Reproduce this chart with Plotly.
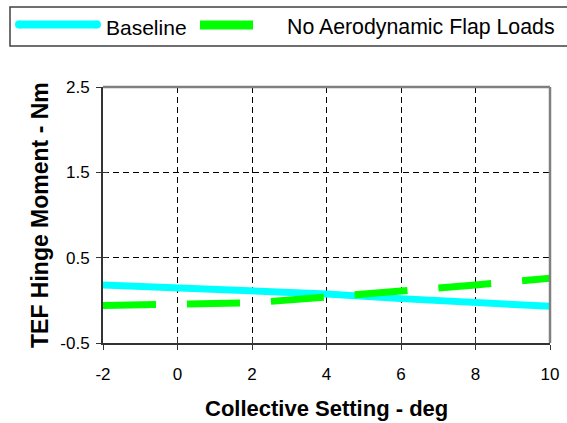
import plotly.graph_objects as go

# ---- data ----
collective_deg = [-2, 0, 2, 4, 6, 8, 10]
baseline = [0.18, 0.15, 0.12, 0.075, 0.02, -0.016, -0.07]
no_aero_flap_loads = [-0.06, -0.05, -0.03, 0.04, 0.10, 0.18, 0.26]

x_tickvals = [-2, 0, 2, 4, 6, 8, 10]
x_ticktext = ["-2", "0", "2", "4", "6", "8", "10"]
y_tickvals = [-0.5, 0.5, 1.5, 2.5]
y_ticktext = ["-0.5", "0.5", "1.5", "2.5"]

series_names = ["Baseline", "No Aerodynamic Flap Loads"]
x_title = "Collective Setting - deg"
y_title = "TEF Hinge Moment - Nm"

# ---- layout geometry (pixels) ----
W, H = 567, 423
L, R, T, B = 103, 550, 87, 343


def px(x):
    return (x - L) / (R - L)


def py(y):
    return (B - y) / (B - T)


FONT = "Liberation Sans, Arial, sans-serif"
CYAN = "#00FFFF"
GREEN = "#00FF00"

fig = go.Figure()
fig.add_trace(go.Scatter(x=collective_deg, y=baseline, mode="lines",
                         name=series_names[0],
                         line=dict(color=CYAN, width=7), showlegend=False))
fig.add_trace(go.Scatter(x=collective_deg, y=no_aero_flap_loads, mode="lines",
                         name=series_names[1],
                         line=dict(color=GREEN, width=7, dash="53px,31px"),
                         showlegend=False))

axis_common = dict(showgrid=False, zeroline=False, automargin=False)

fig.update_layout(
    width=W, height=H,
    margin=dict(l=L, r=W - R, t=T, b=H - B, pad=0, autoexpand=False),
    paper_bgcolor="white", plot_bgcolor="white",
    font=dict(family=FONT, color="black"),
    xaxis=dict(range=[-2, 10], tickvals=x_tickvals, ticktext=x_ticktext,
               showgrid=True, gridcolor="black", griddash="6px,4px", gridwidth=1,
               zeroline=False, showline=True, linecolor="#333333", linewidth=2,
               ticks="outside", ticklen=5, tickcolor="#333333", tickwidth=1,
               tickfont=dict(size=17, family=FONT), ticklabelstandoff=10,
               automargin=False),
    yaxis=dict(range=[-0.5, 2.5], tickvals=y_tickvals, ticktext=y_ticktext,
               showgrid=True, gridcolor="black", griddash="6px,4px", gridwidth=1,
               zeroline=False, showline=True, linecolor="#333333", linewidth=2,
               ticks="outside", ticklen=5, tickcolor="#333333", tickwidth=1,
               tickfont=dict(size=17, family=FONT), ticklabelstandoff=3,
               automargin=False),
    xaxis2=dict(range=[-2, 10], tickvals=x_tickvals, overlaying="x", anchor="y",
                side="bottom", ticks="inside", ticklen=5, tickcolor="#333333",
                showticklabels=False, **axis_common),
    yaxis2=dict(range=[-0.5, 2.5], tickvals=y_tickvals, overlaying="y", anchor="x",
                side="left", ticks="inside", ticklen=5, tickcolor="#333333",
                showticklabels=False, **axis_common),
)

# invisible trace to activate overlay axes
fig.add_trace(go.Scatter(x=[None], y=[None], xaxis="x2", yaxis="y2",
                         showlegend=False, hoverinfo="skip"))

shapes = []
# top and right plot border (gray)
shapes.append(dict(type="line", xref="paper", yref="paper", x0=0, x1=1, y0=1, y1=1,
                   line=dict(color="#808080", width=2.5)))
shapes.append(dict(type="line", xref="paper", yref="paper", x0=1, x1=1, y0=0, y1=1,
                   line=dict(color="#808080", width=2.5)))

# legend box
shapes.append(dict(type="rect", xref="paper", yref="paper",
                   x0=px(10), x1=px(575), y0=py(7), y1=py(46),
                   line=dict(color="#404040", width=1.5), fillcolor="white"))
# legend symbols
shapes.append(dict(type="line", xref="paper", yref="paper",
                   x0=px(19), x1=px(97), y0=py(24.5), y1=py(24.5),
                   line=dict(color=CYAN, width=8)))
for cx in (19, 97):
    shapes.append(dict(type="circle", xref="paper", yref="paper",
                       x0=px(cx - 4), x1=px(cx + 4), y0=py(24.5 - 4), y1=py(24.5 + 4),
                       line=dict(width=0), fillcolor=CYAN))
shapes.append(dict(type="line", xref="paper", yref="paper",
                   x0=px(200), x1=px(253), y0=py(25), y1=py(25),
                   line=dict(color=GREEN, width=9)))
fig.update_layout(shapes=shapes)

annotations = [
    dict(text=series_names[0], xref="paper", yref="paper", x=px(104), y=py(27),
         xanchor="left", yanchor="middle", showarrow=False,
         font=dict(size=21, family=FONT, color="black")),
    dict(text=series_names[1], xref="paper", yref="paper", x=px(285), y=py(27),
         xanchor="left", yanchor="middle", showarrow=False,
         font=dict(size=21.3, family=FONT, color="black")),
    dict(text="<b>" + x_title + "</b>", xref="paper", yref="paper",
         x=px(326.5), y=py(408), xanchor="center", yanchor="middle",
         showarrow=False, font=dict(size=22, family=FONT, color="black")),
    dict(text="<b>" + y_title + "</b>", xref="paper", yref="paper",
         x=px(40), y=py(215), xanchor="center", yanchor="middle", textangle=-90,
         showarrow=False, font=dict(size=23, family=FONT, color="black")),
]
fig.update_layout(annotations=annotations)

fig.write_html("out.html")
